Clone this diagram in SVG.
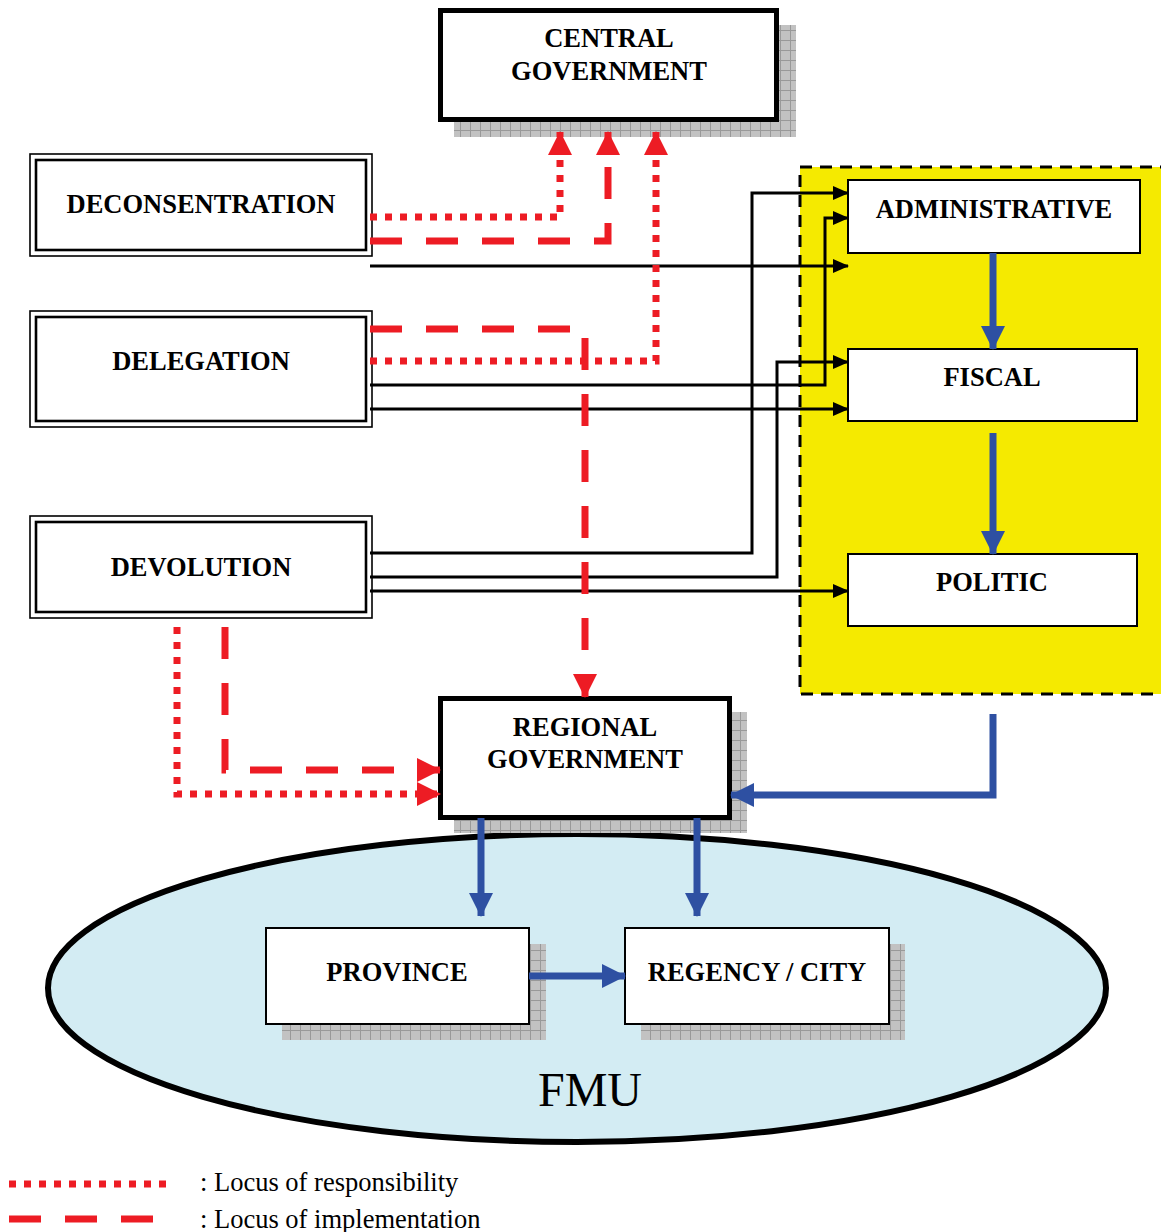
<svg xmlns="http://www.w3.org/2000/svg" width="1161" height="1232" viewBox="0 0 1161 1232">
  <style>
    .lbl { font-family: "Liberation Serif", "Times New Roman", serif; font-weight: bold; font-size: 26.5px; fill: #000; text-anchor: middle; }
    .legend { font-family: "Liberation Serif", "Times New Roman", serif; font-size: 26.5px; fill: #000; }
    .fmu { font-family: "Liberation Serif", "Times New Roman", serif; font-size: 48px; fill: #000; text-anchor: middle; }
    .box { fill: #fff; stroke: #000; stroke-width: 2; }
    .heavy { fill: #fff; stroke: #000; stroke-width: 5; }
    .dbl-outer { fill: #fff; stroke: #000; stroke-width: 1.6; }
    .dbl-inner { fill: none; stroke: #000; stroke-width: 2.6; }
    .shadow { fill: url(#grid); }
    .resp { fill: none; stroke: #ed1c24; stroke-width: 7; stroke-dasharray: 7 8; }
    .impl { fill: none; stroke: #ed1c24; stroke-width: 7; stroke-dasharray: 32 24; }
    .blk { fill: none; stroke: #000; stroke-width: 3; }
    .blue { fill: none; stroke: #2e50a2; stroke-width: 7; }
  </style>
  <defs>
    <pattern id="grid" width="10" height="10" patternUnits="userSpaceOnUse">
      <rect width="10" height="10" fill="#c2c2c2"/>
      <path d="M0,0.5 H10 M0.5,0 V10" stroke="#999" stroke-width="1"/>
    </pattern>
    <marker id="redArrow" markerUnits="userSpaceOnUse" markerWidth="24" markerHeight="24" refX="23" refY="12" orient="auto">
      <path d="M0,0 L24,12 L0,24 z" fill="#ed1c24"/>
    </marker>
    <marker id="blkArrow" markerUnits="userSpaceOnUse" markerWidth="16" markerHeight="14" refX="15" refY="7" orient="auto">
      <path d="M0,0 L16,7 L0,14 z" fill="#000"/>
    </marker>
    <marker id="blueArrow" markerUnits="userSpaceOnUse" markerWidth="24" markerHeight="24" refX="23" refY="12" orient="auto">
      <path d="M0,0 L24,12 L0,24 z" fill="#2e50a2"/>
    </marker>
  </defs>

  <!-- FMU ellipse -->
  <g id="fmu">
    <ellipse cx="577" cy="988" rx="529" ry="154" fill="#d3ecf3" stroke="#000" stroke-width="6"/>
    <text class="fmu" x="590" y="1106">FMU</text>
  </g>

  <!-- yellow grouping of decentralisation types -->
  <g id="types-area">
    <rect x="800" y="167" width="363" height="527" fill="#f5ea00" stroke="#000" stroke-width="3" stroke-dasharray="12 8"/>
  </g>

  <g id="central-government">
    <rect class="shadow" x="454" y="25" width="342" height="112"/>
    <rect class="heavy" x="440.5" y="10.5" width="336" height="109"/>
    <text class="lbl" x="609" y="47">CENTRAL</text>
    <text class="lbl" x="609" y="80">GOVERNMENT</text>
  </g>

  <g id="deconsentration">
    <rect class="dbl-outer" x="30" y="154" width="342" height="102"/>
    <rect class="dbl-inner" x="36" y="160" width="330" height="90"/>
    <text class="lbl" x="201" y="213">DECONSENTRATION</text>
  </g>

  <g id="delegation">
    <rect class="dbl-outer" x="30" y="311" width="342" height="116"/>
    <rect class="dbl-inner" x="36" y="317" width="330" height="104"/>
    <text class="lbl" x="201" y="370">DELEGATION</text>
  </g>

  <g id="devolution">
    <rect class="dbl-outer" x="30" y="516" width="342" height="102"/>
    <rect class="dbl-inner" x="36" y="522" width="330" height="90"/>
    <text class="lbl" x="201" y="576">DEVOLUTION</text>
  </g>

  <g id="administrative">
    <rect class="box" x="848" y="180" width="292" height="73"/>
    <text class="lbl" x="994" y="218">ADMINISTRATIVE</text>
  </g>

  <g id="fiscal">
    <rect class="box" x="848" y="349" width="289" height="72"/>
    <text class="lbl" x="992" y="386">FISCAL</text>
  </g>

  <g id="politic">
    <rect class="box" x="848" y="554" width="289" height="72"/>
    <text class="lbl" x="992" y="591">POLITIC</text>
  </g>

  <g id="regional-government">
    <rect class="shadow" x="454" y="712" width="293" height="121"/>
    <rect class="heavy" x="440.5" y="698.5" width="289" height="119"/>
    <text class="lbl" x="585" y="736">REGIONAL</text>
    <text class="lbl" x="585" y="768">GOVERNMENT</text>
  </g>

  <g id="province">
    <rect class="shadow" x="282" y="944" width="264" height="96"/>
    <rect class="box" x="266" y="928" width="263" height="96"/>
    <text class="lbl" x="397" y="981">PROVINCE</text>
  </g>

  <g id="regency-city">
    <rect class="shadow" x="641" y="944" width="264" height="96"/>
    <rect class="box" x="625" y="928" width="264" height="96"/>
    <text class="lbl" x="757" y="981">REGENCY / CITY</text>
  </g>

  <g id="connectors">
    <!-- black: type links -->
    <path class="blk" d="M370,266 H848" marker-end="url(#blkArrow)"/>
    <path class="blk" d="M370,385 H825 V218 H848" marker-end="url(#blkArrow)"/>
    <path class="blk" d="M370,409 H848" marker-end="url(#blkArrow)"/>
    <path class="blk" d="M370,553 H752 V193 H848" marker-end="url(#blkArrow)"/>
    <path class="blk" d="M370,577 H777 V362 H848" marker-end="url(#blkArrow)"/>
    <path class="blk" d="M370,591 H848" marker-end="url(#blkArrow)"/>

    <!-- red: responsibility (dotted) and implementation (dashed) -->
    <path class="resp" d="M370,217 H560 V132" marker-end="url(#redArrow)"/>
    <path class="impl" d="M370,241 H608 V132" marker-end="url(#redArrow)"/>
    <path class="impl" d="M370,329 H585 V697" marker-end="url(#redArrow)"/>
    <path class="resp" d="M370,361 H656 V132" marker-end="url(#redArrow)"/>
    <path class="impl" d="M225,627 V770 H440" marker-end="url(#redArrow)"/>
    <path class="resp" d="M177,627 V794 H440" marker-end="url(#redArrow)"/>

    <!-- blue: flows -->
    <path class="blue" d="M993,253 V349" marker-end="url(#blueArrow)"/>
    <path class="blue" d="M993,433 V554" marker-end="url(#blueArrow)"/>
    <path class="blue" d="M993,714 V795 H731" marker-end="url(#blueArrow)"/>
    <path class="blue" d="M481,818 V916" marker-end="url(#blueArrow)"/>
    <path class="blue" d="M697,818 V916" marker-end="url(#blueArrow)"/>
    <path class="blue" d="M529,976 H625" marker-end="url(#blueArrow)"/>
  </g>

  <g id="legend">
    <path class="resp" d="M9,1184 H172"/>
    <path class="impl" d="M9,1219 H160"/>
    <text class="legend" x="200" y="1191">: Locus of responsibility</text>
    <text class="legend" x="200" y="1228">: Locus of implementation</text>
  </g>
</svg>
